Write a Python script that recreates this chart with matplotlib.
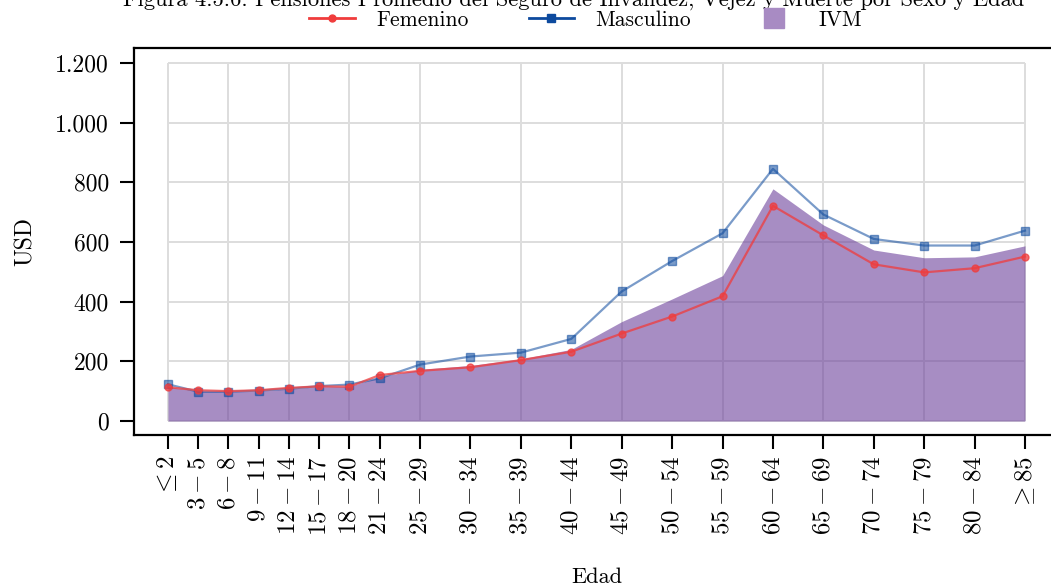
import numpy as np
import matplotlib
matplotlib.use("Agg")
import matplotlib.pyplot as plt
from matplotlib.lines import Line2D
from matplotlib.ticker import FuncFormatter

# computer-modern look, like the LaTeX original
plt.rcParams['font.family'] = ['cmr10']
plt.rcParams['mathtext.fontset'] = 'cm'
plt.rcParams['axes.formatter.use_mathtext'] = True

# data: age groups placed at their lower bound
edad_pos = [0, 3, 6, 9, 12, 15, 18, 21, 25, 30, 35, 40, 45, 50, 55, 60, 65, 70, 75, 80, 85]
edad_labels = [r'$\leq 2$', r'$3 - 5$', r'$6 - 8$', r'$9 - 11$', r'$12 - 14$', r'$15 - 17$',
               r'$18 - 20$', r'$21 - 24$', r'$25 - 29$', r'$30 - 34$', r'$35 - 39$',
               r'$40 - 44$', r'$45 - 49$', r'$50 - 54$', r'$55 - 59$', r'$60 - 64$',
               r'$65 - 69$', r'$70 - 74$', r'$75 - 79$', r'$80 - 84$', r'$\geq 85$']
femenino = [113, 103, 100, 103, 111, 116, 115, 154, 168, 180, 204, 232, 293, 350, 418,
            721, 622, 525, 498, 512, 551]
masculino = [123, 98, 98, 102, 108, 117, 122, 143, 189, 216, 229, 275, 434, 536, 629,
             845, 692, 610, 588, 588, 638]
ivm = [116, 100, 98, 101, 108, 115, 116, 148, 173, 186, 208, 240, 333, 409, 487,
       778, 657, 573, 547, 550, 587]
y_ticks = [0, 200, 400, 600, 800, 1000, 1200]

titulo = 'Figura 4.5.6: Pensiones Promedio del Seguro de Invalidez, Vejez y Muerte por Sexo y Edad'

red = '#F03C3C'
blue = '#0D4A9E'
purple = '#6A3D9A'
fs = 15.5

fig = plt.figure(figsize=(10.51, 5.88), dpi=100)
ax = fig.add_axes([134 / 1051, 153 / 588, 925 / 1051, 387 / 588])
ax.set_xlim(-3.37, 88.37)
ax.set_ylim(-47, 1250)

# light grid box limited to the data range
ax.hlines(y_ticks, edad_pos[0], edad_pos[-1], color='#dddddd', lw=1.4, zorder=1)
ax.vlines(edad_pos[::2], y_ticks[0], y_ticks[-1], color='#dddddd', lw=1.4, zorder=1)

ax.fill_between(edad_pos, 0, ivm, color=purple, alpha=0.59, lw=0, zorder=2)
ax.plot(edad_pos, masculino, color=blue, alpha=0.55, lw=1.6, marker='s', ms=6, zorder=3)
ax.plot(edad_pos, femenino, color=red, alpha=0.75, lw=1.6, marker='o', ms=5, zorder=4)

ax.set_xticks(edad_pos)
ax.set_xticklabels(edad_labels, rotation=90, fontsize=18)
ax.set_yticks(y_ticks)
ax.yaxis.set_major_formatter(FuncFormatter(lambda v, p: f'{int(v):,}'.replace(',', '.')))
ax.tick_params(axis='y', labelsize=17, length=10, width=1.5, pad=8)
ax.tick_params(axis='x', length=10, width=1.5, pad=5)
for s in ax.spines.values():
    s.set_linewidth(1.6)

ax.set_xlabel('Edad', fontsize=16, labelpad=23)
ax.set_ylabel('USD', fontsize=17, labelpad=13)

fig.text(0.546, 1 - 7 / 588, titulo, ha='center', va='baseline', fontsize=16.2)

handles = [Line2D([], [], color=red, lw=2, marker='o', ms=5),
           Line2D([], [], color=blue, lw=2, marker='s', ms=6),
           Line2D([], [], color='#A88BC3', lw=0, marker='s', ms=15)]
fig.legend(handles, ['Femenino', 'Masculino', 'IVM'], loc='center', ncol=3,
           bbox_to_anchor=(585.5 / 1051, 1 - 20 / 588), frameon=False, fontsize=fs,
           handlelength=2.1, handletextpad=1.0, columnspacing=2.8)

fig.savefig('out.png', dpi=100)
